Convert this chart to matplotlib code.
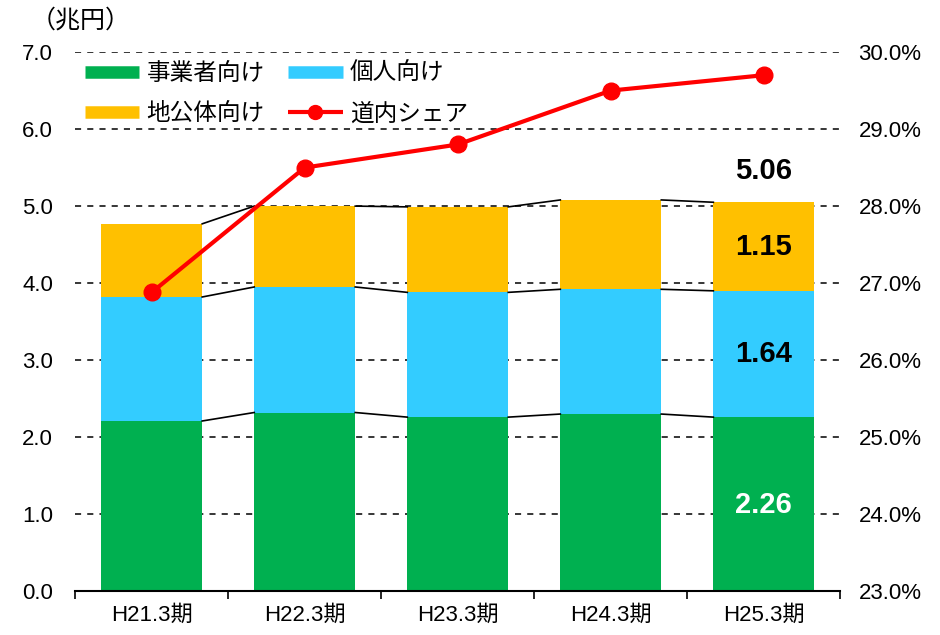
import matplotlib
matplotlib.use("Agg")
import matplotlib.pyplot as plt
import numpy as np
from matplotlib.lines import Line2D

plt.rcParams['font.family'] = ['Liberation Sans', 'Noto Sans CJK JP', 'DejaVu Sans']

periods = ["H21.3期", "H22.3期", "H23.3期", "H24.3期", "H25.3期"]
business = [2.21, 2.32, 2.26, 2.30, 2.26]
personal = [1.61, 1.63, 1.62, 1.62, 1.64]
public = [0.95, 1.05, 1.11, 1.16, 1.15]
totals = [4.77, 5.00, 4.99, 5.08, 5.06]
share = [26.88, 28.5, 28.8, 29.5, 29.7]

c_green = "#00B050"
c_blue = "#33CCFF"
c_orange = "#FFC000"
c_red = "#FF0000"

fig = plt.figure(figsize=(9.4, 6.35), dpi=100)
ax = fig.add_axes([0.08, 0.069, 0.814, 0.849])

x = np.arange(len(periods))
w = 0.66
b1 = np.array(business)
b2 = b1 + np.array(personal)
b3 = b2 + np.array(public)

ax.bar(x, business, w, color=c_green, zorder=2)
ax.bar(x, personal, w, bottom=b1, color=c_blue, zorder=2)
ax.bar(x, public, w, bottom=b2, color=c_orange, zorder=2)

# series connector lines
for lvl in (b1, b2, b3):
    for i in range(len(x) - 1):
        ax.plot([x[i] + w / 2, x[i + 1] - w / 2], [lvl[i], lvl[i + 1]],
                color="black", lw=1.2, zorder=3)

ax.set_xlim(-0.5, len(x) - 0.5)
ax.set_ylim(0, 7)
ax.set_yticks(np.arange(0, 7.01, 1.0))
ax.set_yticklabels([f"{v:.1f}" for v in np.arange(0, 7.01, 1.0)], fontsize=16)
ax.yaxis.grid(True, linestyle=(0, (4, 4)), color="black", lw=1.1)
ax.set_axisbelow(True)
ax.tick_params(axis="y", length=0, pad=16)
ax.set_xticks(x)
ax.set_xticklabels(periods, fontsize=16)
ax.set_xticks(np.arange(-0.5, len(x), 1.0), minor=True)
ax.tick_params(axis="x", which="major", length=0, pad=10)
ax.tick_params(axis="x", which="minor", length=6, width=1.2, direction="out")
for s in ("top", "left", "right"):
    ax.spines[s].set_visible(False)
ax.spines["bottom"].set_linewidth(1.5)

ax2 = ax.twinx()
ax2.set_ylim(23, 30)
ax2.set_yticks(np.arange(23, 30.01, 1.0))
ax2.set_yticklabels([f"{v:.1f}%" for v in np.arange(23, 30.01, 1.0)], fontsize=16)
ax2.tick_params(axis="y", length=0, pad=13)
for s in ("top", "left", "right", "bottom"):
    ax2.spines[s].set_visible(False)
ax2.plot(x, share, color=c_red, lw=3, marker="o", ms=12, zorder=5)

# value labels on last bar
i = len(x) - 1
ax.text(x[i], totals[i] + 0.40, f"{totals[i]:.2f}", ha="center", va="center",
        fontsize=21, fontweight="bold", color="black")
ax.text(x[i], b2[i] + public[i] / 2, f"{public[i]:.2f}", ha="center", va="center",
        fontsize=21, fontweight="bold", color="black")
ax.text(x[i], b1[i] + personal[i] / 2, f"{personal[i]:.2f}", ha="center", va="center",
        fontsize=21, fontweight="bold", color="black")
ax.text(x[i], 1.12, f"{business[i]:.2f}", ha="center", va="center",
        fontsize=21, fontweight="bold", color="white")

fig.text(0.033, 0.968, "（兆円）", fontsize=18, ha="left", va="center")

handles = [
    Line2D([0], [0], color=c_green, lw=9, solid_capstyle="butt"),
    Line2D([0], [0], color=c_orange, lw=9, solid_capstyle="butt"),
    Line2D([0], [0], color=c_blue, lw=9, solid_capstyle="butt"),
    Line2D([0], [0], color=c_red, lw=3, marker="o", ms=10, solid_capstyle="butt"),
]
labels = ["事業者向け", "地公体向け", "個人向け", "道内シェア"]
leg = ax.legend(handles, labels, ncol=2, loc="upper left", bbox_to_anchor=(0.013, 0.979),
                frameon=False, fontsize=17, handlelength=2.3, columnspacing=1.0,
                labelspacing=0.75, handletextpad=0.3, borderaxespad=0, borderpad=0)
leg.set_zorder(10)

fig.savefig("out.png", dpi=100)
